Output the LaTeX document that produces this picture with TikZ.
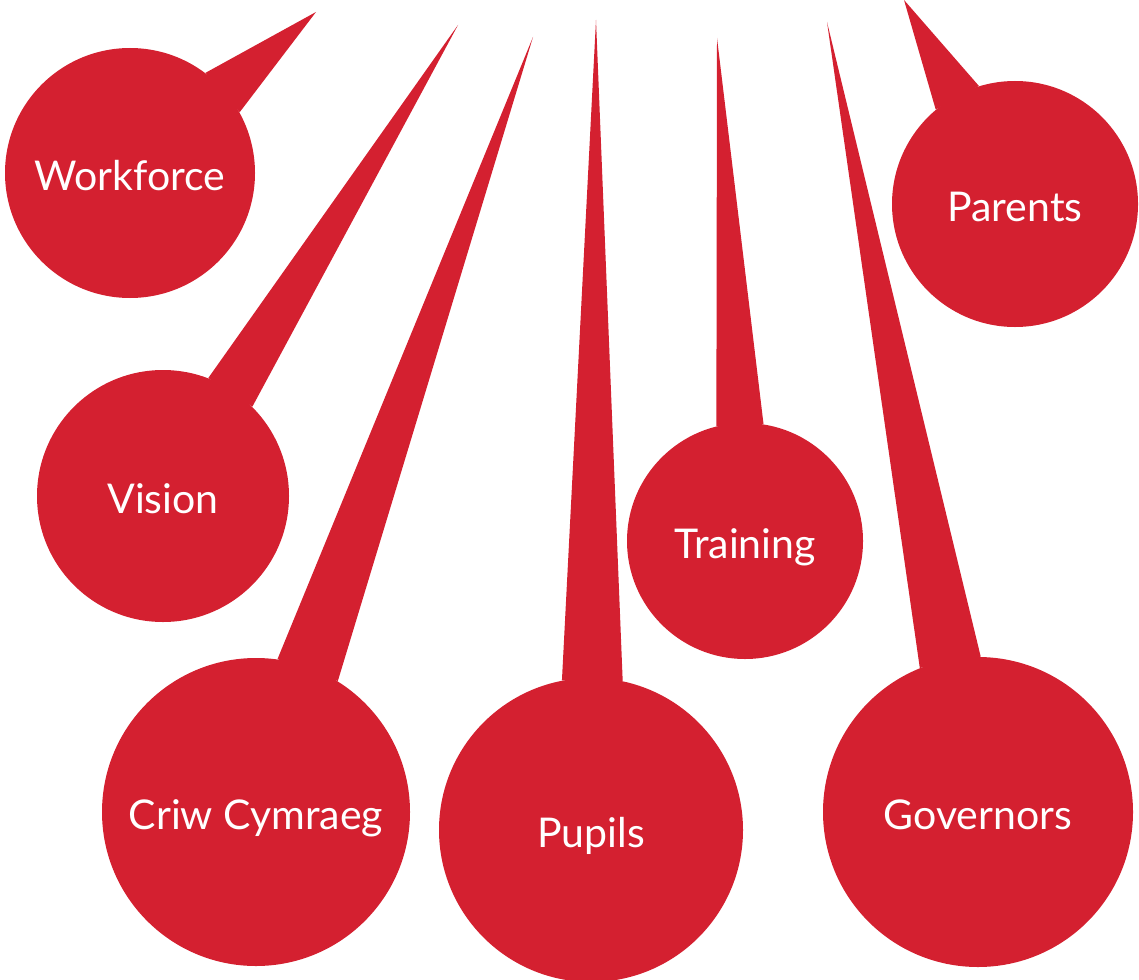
\documentclass[tikz,border=0pt]{standalone}
\usepackage{fontspec}
\setmainfont{Lato}
\usepackage{tikz}
\definecolor{bubblered}{HTML}{D42030}
\tikzstyle{bubble} = [circle, fill=bubblered, text=white, inner sep=0pt, text height=18pt, text depth=1pt, font=\fontsize{20.5}{25}\selectfont]
\tikzstyle{tail} = [fill=bubblered]

\begin{document}
\begin{tikzpicture}[x=0.5pt, y=-0.5pt]
      \useasboundingbox (0,0) rectangle (1139,979);
      \node (work) [bubble, minimum size=125pt] at (130,173) {Workforce};
      \node (vis) [bubble, minimum size=126pt] at (163,496) {Vision};
      \node (criw) [bubble, minimum size=154pt] at (256,812) {Criw Cymraeg};
      \node (pup) [bubble, minimum size=152pt] at (591,830) {Pupils};
      \node (train) [bubble, minimum size=118pt] at (745,541) {Training};
      \node (gov) [bubble, minimum size=155pt] at (978,812) {Governors};
      \node (par) [bubble, minimum size=123pt] at (1015,204) {Parents};
      \coordinate (worktip) at (316,12);
      \coordinate (vistip) at (458,25);
      \coordinate (criwtip) at (533,37);
      \coordinate (puptip) at (596,20);
      \coordinate (traintip) at (717,38);
      \coordinate (govtip) at (827,22);
      \coordinate (partip) at (904,0);
      \fill [tail] (worktip) -- (work.53.5) -- (work.29) -- cycle;
      \fill [tail] (vistip) -- (vis.69) -- (vis.45.6) -- cycle;
      \fill [tail] (criwtip) -- (criw.82) -- (criw.58.5) -- cycle;
      \fill [tail] (puptip) -- (pup.101) -- (pup.78) -- cycle;
      \fill [tail] (traintip) -- (train.104) -- (train.81.5) -- cycle;
      \fill [tail] (govtip) -- (gov.112) -- (gov.89) -- cycle;
      \fill [tail] (partip) -- (par.130) -- (par.107) -- cycle;
    \end{tikzpicture}
\end{document}
